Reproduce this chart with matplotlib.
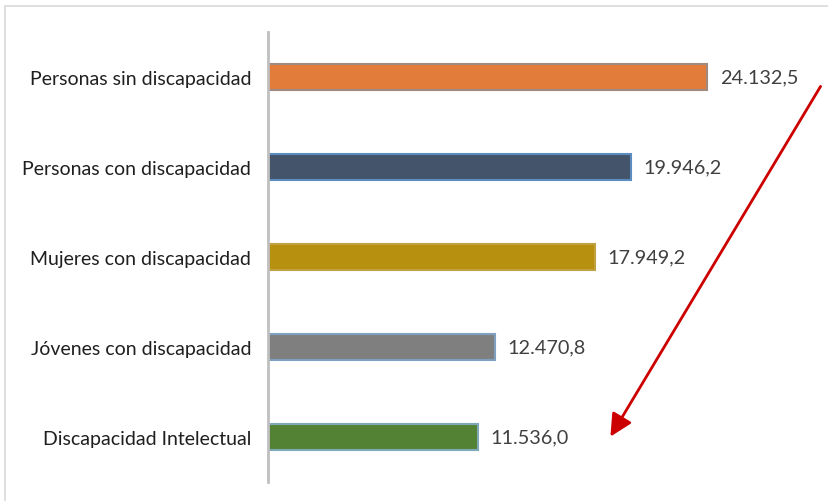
import matplotlib
matplotlib.use("Agg")
import matplotlib.pyplot as plt
from matplotlib.patches import Rectangle

categories = ["Personas sin discapacidad", "Personas con discapacidad",
              "Mujeres con discapacidad", "Jóvenes con discapacidad",
              "Discapacidad Intelectual"]
values = [24132.5, 19946.2, 17949.2, 12470.8, 11536.0]
labels = ["24.132,5", "19.946,2", "17.949,2", "12.470,8", "11.536,0"]
colors = ["#E27C3A", "#44546A", "#B8900F", "#7F7F7F", "#548235"]
edges = ["#A08A80", "#5B8DC0", "#C0A040", "#7FA0C0", "#7FA8B8"]

plt.rcParams['font.family'] = ['Lato', 'DejaVu Sans']

W, H = 829, 502
fig = plt.figure(figsize=(W / 100, H / 100), dpi=100)
fig.patches.append(Rectangle((5 / W, -0.1), 1.0, (H - 7) / H + 0.1, transform=fig.transFigure,
                             fill=False, edgecolor="#D9D9D9", linewidth=1.2, zorder=0))

left_px, right_px = 268, 829
top_px, bot_px = 33, 483
ax = fig.add_axes([left_px / W, (H - bot_px) / H, (right_px - left_px) / W, (bot_px - top_px) / H])
ax.set_facecolor("none")

ypos = list(range(len(categories)))
ax.barh(ypos, values, height=0.29, color=colors, edgecolor=edges, linewidth=1.5)
scale = 439 / 24132.5
ax.set_xlim(0, (right_px - left_px) / scale)
ax.set_ylim(len(categories) - 0.5, -0.5)
ax.set_yticks(ypos)
ax.set_yticklabels(categories, fontsize=14, color="#1f1f1f")
ax.tick_params(axis='y', length=0, pad=12)
ax.set_xticks([])
for s in ["top", "right", "bottom"]:
    ax.spines[s].set_visible(False)
ax.spines["left"].set_color("#BFBFBF")
ax.spines["left"].set_linewidth(2)

for y, v, t in zip(ypos, values, labels):
    ax.text(v + 700, y, t, va="center", ha="left", fontsize=14.3, color="#404040")

fig.add_artist(matplotlib.patches.FancyArrowPatch(
    (822 / W, 1 - 85 / H), (609 / W, 1 - 440 / H), transform=fig.transFigure,
    arrowstyle="-|>,head_length=9,head_width=4.5", color="#CC0000", linewidth=2,
    mutation_scale=1.5))

fig.savefig("out.png", dpi=100)
